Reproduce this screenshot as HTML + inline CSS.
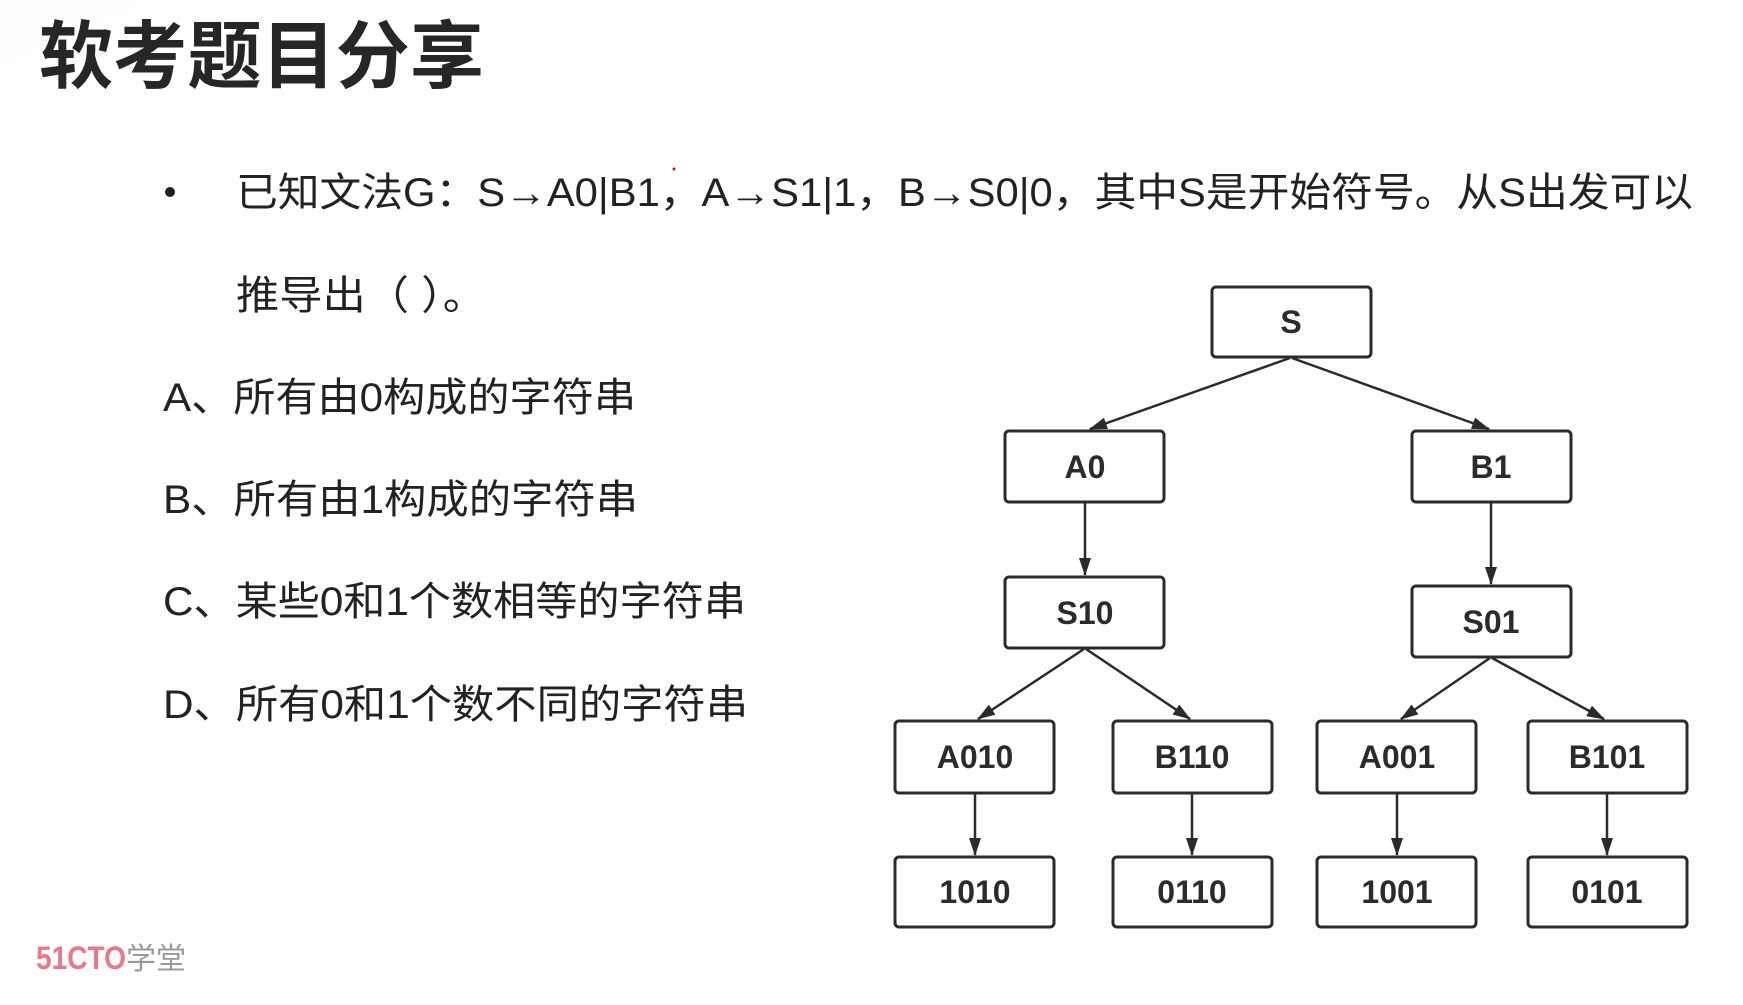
<!DOCTYPE html>
<html><head><meta charset="utf-8"><style>
html,body{margin:0;padding:0;background:#fff;}
svg{display:block;}
</style></head><body>
<svg width="1743" height="1005" viewBox="0 0 1743 1005" xmlns="http://www.w3.org/2000/svg">
<defs>
<radialGradient id="g" cx="0" cy="0" r="1">
<stop offset="0" stop-color="#e6e6e6"/><stop offset="1" stop-color="#ffffff" stop-opacity="0"/>
</radialGradient>
<marker id="ar2" viewBox="0 0 18 12" refX="17" refY="6" markerWidth="18" markerHeight="12" orient="auto" markerUnits="userSpaceOnUse">
<path d="M0,0 L18,6 L0,12 z" fill="#2b2b2b"/></marker>
</defs>
<rect width="1743" height="1005" fill="#fff"/>
<ellipse cx="0" cy="0" rx="330" ry="150" fill="url(#g)"/>
<g font-family="'Liberation Sans','Noto Sans CJK SC',sans-serif" fill="#222">
<text x="39" y="82" font-size="74" font-weight="bold" textLength="445" lengthAdjust="spacingAndGlyphs" fill="#262626">软考题目分享</text>
<circle cx="170" cy="192" r="5" fill="#222"/>
<text x="236" y="206" font-size="40" textLength="1457" lengthAdjust="spacingAndGlyphs">已知文法G：S→A0|B1，A→S1|1，B→S0|0，其中S是开始符号。从S出发可以</text>
<circle cx="674" cy="169" r="1.5" fill="#d00"/>
<text x="236" y="309" font-size="40" textLength="250" lengthAdjust="spacingAndGlyphs">推导出（ ）。</text>
<text x="163" y="411" font-size="40" textLength="473" lengthAdjust="spacingAndGlyphs">A、所有由0构成的字符串</text>
<text x="163" y="513" font-size="40" textLength="475" lengthAdjust="spacingAndGlyphs">B、所有由1构成的字符串</text>
<text x="163" y="615" font-size="40" textLength="583" lengthAdjust="spacingAndGlyphs">C、某些0和1个数相等的字符串</text>
<text x="163" y="718" font-size="40" textLength="585" lengthAdjust="spacingAndGlyphs">D、所有0和1个数不同的字符串</text>
<text x="36" y="969" font-size="32" font-weight="bold" fill="#e8788a" textLength="90" lengthAdjust="spacingAndGlyphs">51CTO</text>
<text x="126" y="969" font-size="30" fill="#999" textLength="60" lengthAdjust="spacingAndGlyphs">学堂</text>
</g>
<g stroke="#2b2b2b" stroke-width="2.5" fill="none">
<line x1="1290" y1="358" x2="1090" y2="429" marker-end="url(#ar2)"/>
<line x1="1292" y1="358" x2="1489" y2="429" marker-end="url(#ar2)"/>
<line x1="1085" y1="503" x2="1085" y2="575" marker-end="url(#ar2)"/>
<line x1="1491" y1="503" x2="1491" y2="584" marker-end="url(#ar2)"/>
<line x1="1084" y1="649" x2="978" y2="719" marker-end="url(#ar2)"/>
<line x1="1086" y1="649" x2="1190" y2="719" marker-end="url(#ar2)"/>
<line x1="1490" y1="658" x2="1401" y2="719" marker-end="url(#ar2)"/>
<line x1="1492" y1="658" x2="1604" y2="719" marker-end="url(#ar2)"/>
<line x1="975" y1="794" x2="975" y2="855" marker-end="url(#ar2)"/>
<line x1="1192" y1="794" x2="1192" y2="855" marker-end="url(#ar2)"/>
<line x1="1397" y1="794" x2="1397" y2="855" marker-end="url(#ar2)"/>
<line x1="1607" y1="794" x2="1607" y2="855" marker-end="url(#ar2)"/>
</g>
<g stroke="#2b2b2b" stroke-width="3" fill="#fff">
<rect x="1212" y="287" width="159" height="70" rx="4"/>
<rect x="1005" y="431" width="159" height="71" rx="4"/>
<rect x="1412" y="431" width="159" height="71" rx="4"/>
<rect x="1005" y="577" width="159" height="71" rx="4"/>
<rect x="1412" y="586" width="159" height="71" rx="4"/>
<rect x="895" y="721" width="159" height="72" rx="4"/>
<rect x="1113" y="721" width="159" height="72" rx="4"/>
<rect x="1317" y="721" width="159" height="72" rx="4"/>
<rect x="1528" y="721" width="159" height="72" rx="4"/>
<rect x="895" y="857" width="159" height="70" rx="4"/>
<rect x="1113" y="857" width="159" height="70" rx="4"/>
<rect x="1317" y="857" width="159" height="70" rx="4"/>
<rect x="1528" y="857" width="159" height="70" rx="4"/>
</g>
<g font-family="'Liberation Sans',sans-serif" font-size="32" font-weight="bold" fill="#2b2b2b" text-anchor="middle">
<text x="1291" y="333">S</text>
<text x="1085" y="478">A0</text>
<text x="1491" y="478">B1</text>
<text x="1085" y="624">S10</text>
<text x="1491" y="633">S01</text>
<text x="975" y="768">A010</text>
<text x="1192" y="768">B110</text>
<text x="1397" y="768">A001</text>
<text x="1607" y="768">B101</text>
<text x="975" y="903">1010</text>
<text x="1192" y="903">0110</text>
<text x="1397" y="903">1001</text>
<text x="1607" y="903">0101</text>
</g>
</svg>
</body></html>
